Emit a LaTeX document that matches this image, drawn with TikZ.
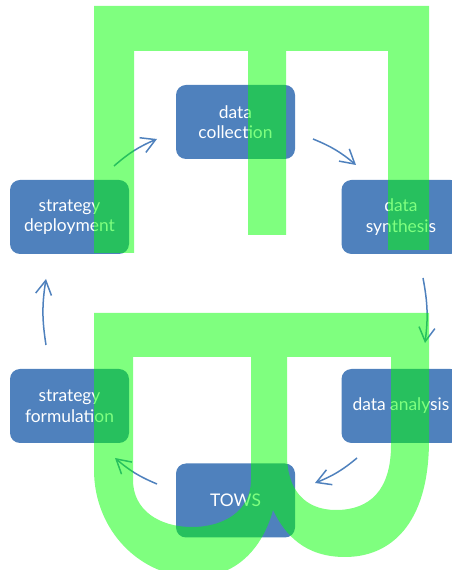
\documentclass[tikz,border=0pt]{standalone}
\usepackage{fontspec}
\setmainfont{Lato}
\usetikzlibrary{arrows.meta}
\definecolor{boxblue}{HTML}{4F81BD}
\definecolor{glyphgreen}{RGB}{0,255,0}
\tikzset{
  stagebox/.style={fill=boxblue, rounded corners=10pt, minimum width=119pt, minimum height=74pt,
    inner sep=0pt, text=white, align=center, font=\fontsize{17.4}{20.5}\selectfont},
  cyclearrow/.style={draw=boxblue, line width=1.5pt, -{Straight Barb[length=14pt,width=16pt,line width=1.5pt]}, bend left=9},
  glyph/.style={fill=glyphgreen, fill opacity=0.5, even odd rule}
}
\begin{document}
\begin{tikzpicture}[x=1pt,y=1pt]
\useasboundingbox (0,0) rectangle (452,570);
\clip (0,0) rectangle (452,570);
% boxes
\node[stagebox] (collection) at (235.5,448) {data\\collection};
\node[stagebox] (deployment) at (69.5,353) {strategy\\deployment};
\node[stagebox] (synthesis) at (401,353) {data\\synthesis};
\node[stagebox] (analysis) at (401,164) {data analysis};
\node[stagebox] (formulation) at (69.5,164) {strategy\\formulation};
\node[stagebox] (tows) at (235.5,69.5) {TOWS};
% arrow end points
\coordinate (a1s) at (114,404); \coordinate (a1e) at (157,431);
\coordinate (a2s) at (313,431); \coordinate (a2e) at (356,405);
\coordinate (a3s) at (423,292); \coordinate (a3e) at (425,227);
\coordinate (a4s) at (357,112); \coordinate (a4e) at (315,87);
\coordinate (a5s) at (157,86);  \coordinate (a5e) at (115,112);
\coordinate (a6s) at (46,225);  \coordinate (a6e) at (46,291);
\draw[cyclearrow] (a1s) to (a1e);
\draw[cyclearrow] (a2s) to (a2e);
\draw[cyclearrow] (a3s) to (a3e);
\draw[cyclearrow] (a4s) to (a4e);
\draw[cyclearrow] (a5s) to (a5e);
\draw[cyclearrow] (a6s) to (a6e);
% green glyph overlay, upper part
\fill[glyph] (94,564) -- (429,564) -- (429,320) -- (388,320) -- (388,519) -- (286,519)
  -- (286,335) -- (248,335) -- (248,519) -- (134,519) -- (134,317) -- (94,317) -- cycle;
% green glyph overlay, lower part
\fill[glyph] (94,257) -- (429,257) -- (429,130)
  .. controls (429,45) and (390,13) .. (345,13)
  .. controls (305,13) and (285,35) .. (273,60)
  .. controls (262,20) and (235,-7) .. (195,-7)
  .. controls (140,-7) and (94,40) .. (94,100) -- cycle
  (133,213) -- (251,213) -- (251,90)
  .. controls (251,60) and (225,43) .. (192,43)
  .. controls (159,43) and (133,60) .. (133,90) -- cycle
  (287,213) -- (391,213) -- (391,125)
  .. controls (391,80) and (370,60) .. (336,60)
  .. controls (305,60) and (287,80) .. (287,115) -- cycle;
\end{tikzpicture}
\end{document}
